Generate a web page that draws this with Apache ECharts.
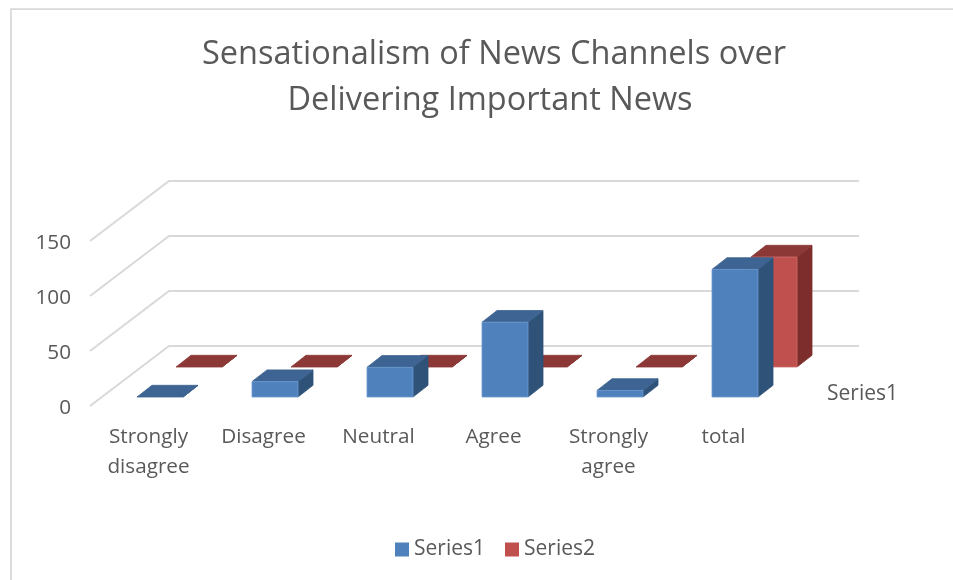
<!DOCTYPE html>
<html>
<head>
<meta charset="utf-8">
<style>html,body{margin:0;padding:0;background:#fff}#c{width:953px;height:580px}</style>
<script src="https://cdn.jsdelivr.net/npm/echarts@6/dist/echarts.min.js"></script>
</head>
<body>
<div id="c"></div>
<script>
var categories = ['Strongly\ndisagree', 'Disagree', 'Neutral', 'Agree', 'Strongly\nagree', 'total'];
var series1Values = [0, 14, 27, 68, 6, 116];
var series2Values = [0, 0, 0, 0, 0, 100];
var gridTicks = [0, 50, 100, 150];

var FONT = '"Open Sans", sans-serif';
var TEXT = '#595959';
var WALL = { dx: 79, dy: -60 };
var BLUE = { name: 'Series1', front: '#4f81bd', top: '#3d6492', side: '#2f5279', edge: '#6f9ad0', off: -10.5, lift: -9 };
var RED = { name: 'Series2', front: '#c0504d', top: '#8c3836', side: '#7d2e2c', edge: '#cf6f6c', off: 28.5, lift: -39 };
var BAR_W = 46, DEPTH = { dx: 15, dy: -11.7 };

function poly(points, fill, stroke) {
  return { type: 'polygon', shape: { points: points }, style: { fill: fill, stroke: stroke || fill, lineWidth: 0.8 } };
}
function barRenderer(s) {
  return function (params, api) {
    var idx = api.value(0), v = api.value(1);
    var base = api.coord([idx, 0]), head = api.coord([idx, v]);
    var x0 = base[0] + s.off, x1 = x0 + BAR_W;
    var yb = base[1] + s.lift, yt = head[1] + s.lift;
    var dx = DEPTH.dx, dy = DEPTH.dy;
    var kids = [];
    kids.push(poly([[x1, yb], [x1 + dx, yb + dy], [x1 + dx, yt + dy], [x1, yt]], s.side));
    kids.push(poly([[x0, yt], [x1, yt], [x1 + dx, yt + dy], [x0 + dx, yt + dy]], s.top));
    if (yb - yt > 0.5) kids.push(poly([[x0, yb], [x1, yb], [x1, yt], [x0, yt]], s.front, s.edge));
    return { type: 'group', children: kids };
  };
}
function wallRenderer(params, api) {
  var v = api.value(0);
  var size = api.size([1, 0])[0];
  var a = api.coord([0, v]);
  var x0 = a[0] - size / 2, y = a[1];
  var x1 = x0 + size * categories.length;
  return {
    type: 'polyline',
    shape: { points: [[x0, y], [x0 + WALL.dx, y + WALL.dy], [x1 + WALL.dx, y + WALL.dy]] },
    style: { stroke: '#d9d9d9', lineWidth: 2, fill: null }
  };
}

var titleStyle = { fontFamily: FONT, fontWeight: 'normal', fontSize: 32.5, color: TEXT };
var chart = echarts.init(document.getElementById('c'), null, { renderer: 'canvas' });
chart.setOption({
  animation: false,
  backgroundColor: '#ffffff',
  title: [
    { text: 'Sensationalism of News Channels over', left: 494, top: 38, padding: 0, textAlign: 'center', textStyle: titleStyle },
    { text: 'Delivering Important News', left: 490, top: 84, padding: 0, textAlign: 'center', textStyle: titleStyle }
  ],
  legend: {
    bottom: 15, left: 390, itemWidth: 14, itemHeight: 14, itemGap: 20,
    icon: 'rect',
    textStyle: { fontFamily: FONT, fontSize: 21, color: TEXT },
    data: [
      { name: 'Series1', itemStyle: { color: BLUE.front } },
      { name: 'Series2', itemStyle: { color: RED.front } }
    ]
  },
  grid: { left: 90, right: 173, top: 241, bottom: 174 },
  xAxis: {
    type: 'category', data: categories,
    axisLine: { show: false }, axisTick: { show: false }, splitLine: { show: false },
    axisLabel: { interval: 0, margin: 16, fontFamily: FONT, fontSize: 20.7, lineHeight: 30, color: TEXT, hideOverlap: false, padding: [0, 0, 0, 2] }
  },
  yAxis: {
    type: 'value', min: 0, max: 150, interval: 50,
    axisLine: { show: false }, axisTick: { show: false }, splitLine: { show: false },
    axisLabel: {
      margin: 19, formatter: '{a|{value}}',
      rich: { a: { fontFamily: FONT, fontSize: 20.7, color: TEXT, padding: [4, 0, 0, 0] } }
    }
  },
  graphic: [
    { type: 'polyline', silent: true, z: -10, shape: { points: [[11, 580], [11, 9], [953, 9]] },
      style: { fill: null, stroke: '#d9d9d9', lineWidth: 1.75 } },
    { type: 'text', x: 827, y: 394, silent: true,
      style: { text: 'Series1', fontFamily: FONT, fontSize: 21, fill: TEXT, verticalAlign: 'middle' } }
  ],
  series: [
    { name: 'walls', type: 'custom', silent: true, renderItem: wallRenderer, data: gridTicks.map(function (t) { return [t]; }), encode: { y: 0 }, z: 1 },
    { name: 'Series2', type: 'custom', silent: true, renderItem: barRenderer(RED), data: series2Values.map(function (v, i) { return [i, v]; }), encode: { x: 0, y: 1 }, z: 2 },
    { name: 'Series1', type: 'custom', silent: true, renderItem: barRenderer(BLUE), data: series1Values.map(function (v, i) { return [i, v]; }), encode: { x: 0, y: 1 }, z: 3 }
  ]
});
</script>
</body>
</html>
